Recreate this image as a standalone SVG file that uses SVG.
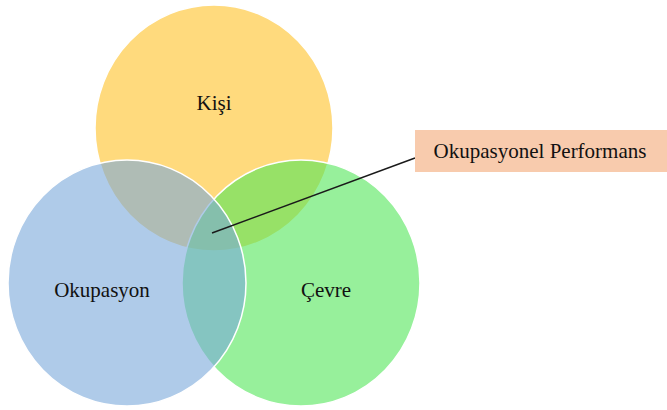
<svg xmlns="http://www.w3.org/2000/svg" width="667" height="410" viewBox="0 0 667 410">
<style>
.c{stroke:#ffffff;stroke-width:1.5;fill-opacity:0.6}
.t{font-family:"Liberation Serif","Times New Roman",serif;font-size:21px;fill:#111111;text-anchor:middle}
</style>
<rect width="667" height="410" fill="#ffffff"/>
<g id="kisi">
<ellipse class="c" cx="214" cy="128" rx="119" ry="123" fill="#FFC126"/>
<text class="t" x="214" y="110">Kişi</text>
</g>
<g id="cevre">
<ellipse class="c" cx="301" cy="283" rx="119" ry="123" fill="#52E658"/>
</g>
<g id="okupasyon">
<ellipse class="c" cx="127" cy="283" rx="119" ry="123" fill="#7AA8DA"/>
</g>
<text class="t" x="102" y="297">Okupasyon</text>
<text class="t" x="326" y="297">Çevre</text>
<g id="connectors">
<line x1="212" y1="233" x2="415" y2="158" stroke="#1a1a1a" stroke-width="1.5"/>
</g>
<g id="performans">
<rect x="415" y="130" width="252" height="42" fill="#F8CBAD"/>
<text class="t" x="540" y="158">Okupasyonel Performans</text>
</g>
</svg>
